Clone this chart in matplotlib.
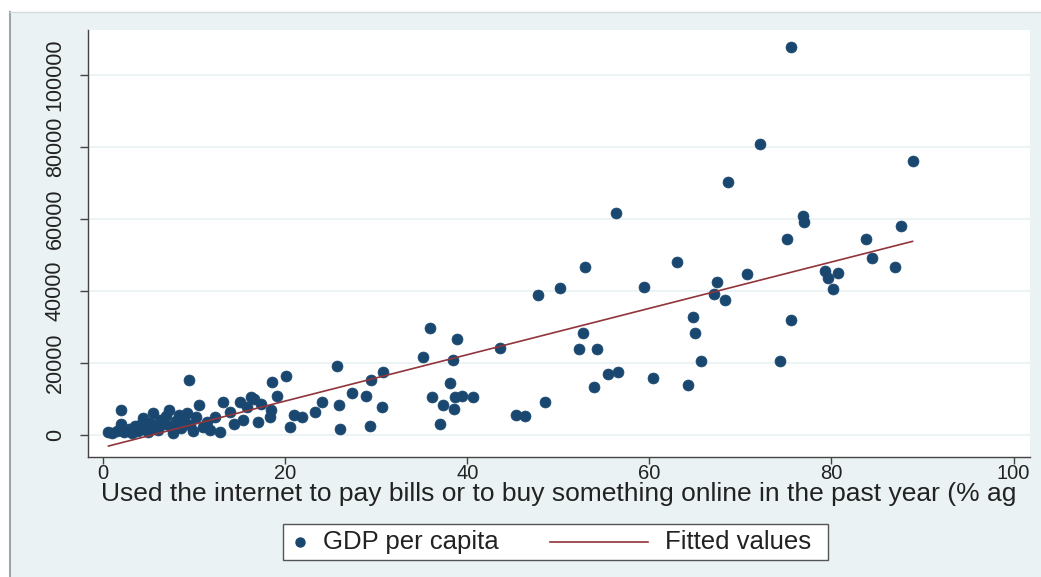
import numpy as np
import matplotlib
matplotlib.use("Agg")
import matplotlib.pyplot as plt
from matplotlib.patches import Rectangle
from matplotlib.lines import Line2D

plt.rcParams['font.family'] = ['Liberation Sans', 'DejaVu Sans']

# share of adults who paid bills / bought online (%) and GDP per capita (US$)
online_pct = [
    0.6, 1.0, 1.5, 2.0, 2.0, 2.3, 2.8, 3.2, 3.5, 3.8, 4.1, 4.4, 4.6, 4.9, 5.2,
    5.5, 5.7, 6.0, 6.3, 6.6, 6.9, 7.2, 7.4, 7.7, 8.0, 8.3, 8.6, 8.9, 9.2, 9.4,
    9.6, 9.9, 10.2, 10.5, 11.0, 11.4, 11.7, 12.3, 12.8, 13.2, 13.9, 14.4, 15.0,
    15.4, 15.8, 16.3, 16.6, 17.0, 17.4, 18.3, 18.5, 18.6, 19.1, 20.1, 20.5,
    21.0, 21.9, 23.3, 24.1, 25.7, 25.9, 26.0, 27.3, 28.9, 29.3, 29.4, 30.6,
    30.8, 35.1, 35.9, 36.1, 37.0, 37.3, 38.1, 38.4, 38.5, 38.6, 38.9, 39.4,
    40.6, 43.6, 45.4, 46.3, 47.8, 48.5, 50.2, 52.3, 52.7, 52.9, 53.9, 54.3,
    55.5, 56.3, 56.6, 59.4, 60.4, 63.0, 64.2, 64.8, 65.0, 65.7, 67.1, 67.4,
    68.3, 68.6, 70.7, 72.1, 74.3, 75.1, 75.5, 75.5, 76.9, 77.0, 79.3, 79.6,
    80.2, 80.7, 83.8, 84.4, 87.0, 87.6, 88.9,
]
gdp_pc = [
    900, 500, 1200, 3200, 6900, 800, 1600, 600, 2400, 1200, 2900, 4600, 1800,
    900, 3400, 6000, 2200, 1300, 4100, 3000, 5200, 6900, 2500, 700, 3800, 5500,
    1900, 4500, 6000, 15300, 2800, 1000, 4900, 8300, 2100, 3700, 1400, 5100,
    900, 9300, 6500, 3000, 9300, 4200, 7900, 10600, 10000, 3700, 8500, 5100,
    6900, 14600, 10800, 16400, 2300, 5700, 4900, 6300, 9300, 19200, 8300, 1600,
    11800, 10800, 2600, 15300, 7900, 17400, 21800, 29800, 10500, 3200, 8300,
    14500, 20800, 7100, 10500, 26600, 10800, 10500, 24100, 5700, 5400, 38900,
    9100, 40900, 23800, 28400, 46800, 13400, 23800, 16900, 61600, 17600, 41200,
    15900, 48100, 13900, 32800, 28300, 20600, 39100, 42400, 37500, 70400,
    44700, 80800, 20600, 54500, 31900, 107700, 60800, 59300, 45600, 43500,
    40500, 44900, 54400, 49100, 46800, 58100, 76200,
]
x_ticks = [0, 20, 40, 60, 80, 100]
y_ticks = [0, 20000, 40000, 60000, 80000, 100000]

x = np.array(online_pct)
y = np.array(gdp_pc)
slope, intercept = np.polyfit(x, y, 1)
fit_x = np.array([x.min(), x.max()])
fit_y = intercept + slope * fit_x

navy = '#1a476f'
maroon = '#90353b'
bg = '#eaf2f3'
W, H = 1041, 577

fig = plt.figure(figsize=(W / 100, H / 100), dpi=100, facecolor=bg)

# window border: white strip left and top, with thin frame lines
fig.add_artist(Rectangle((0, 0), 10 / W, 1, transform=fig.transFigure,
                         facecolor='white', edgecolor='none'))
fig.add_artist(Rectangle((0, 1 - 12 / H), 1, 12 / H, transform=fig.transFigure,
                         facecolor='white', edgecolor='none'))
fig.add_artist(Line2D([10 / W, 10 / W], [0, 1 - 12 / H], transform=fig.transFigure,
                      color='#a0a4a8', lw=1.5))
fig.add_artist(Line2D([10 / W, 1], [1 - 12 / H, 1 - 12 / H], transform=fig.transFigure,
                      color='#d4dadc', lw=1.0))

ax = fig.add_axes([88 / W, 1 - 457 / H, (1030 - 88) / W, (457 - 30) / H])
ax.set_facecolor('white')

ax.scatter(x, y, s=62, color=navy, edgecolors=navy, linewidths=0.5, zorder=3)
ax.plot(fit_x, fit_y, color=maroon, lw=1.2, zorder=4)

ax.set_xlim(-1.65, 101.8)
ax.set_ylim(-6100, 112500)
ax.set_xticks(x_ticks)
ax.set_yticks(y_ticks)
ax.set_yticklabels([str(v) for v in y_ticks], rotation=90, va='center')
ax.tick_params(axis='both', direction='out', width=1, color='#444444',
               labelcolor='#222222')
ax.tick_params(axis='y', length=6, pad=10, labelsize=15.5)
ax.tick_params(axis='x', length=5, pad=0, labelsize=14.5)
ax.grid(axis='y', color=bg, lw=1.3)
ax.set_axisbelow(True)
for side in ['top', 'right']:
    ax.spines[side].set_visible(False)
for side in ['left', 'bottom']:
    ax.spines[side].set_color('#444444')
    ax.spines[side].set_linewidth(1.0)

ax.set_xlabel('Used the internet to pay bills or to buy something online in the past year (% ag',
              fontsize=19, color='#222222', labelpad=-1)

# legend box
lx0, lx1, ly0, ly1 = 283, 828, 524, 560
fig.add_artist(Rectangle((lx0 / W, 1 - ly1 / H), (lx1 - lx0) / W, (ly1 - ly0) / H,
                         transform=fig.transFigure, facecolor='white',
                         edgecolor='#555555', lw=1.0))
ymid = 1 - 542 / H
fig.add_artist(Line2D([300 / W], [ymid], transform=fig.transFigure, marker='o',
                      markersize=6.5, color=navy, lw=0))
fig.text(323 / W, ymid, 'GDP per capita', fontsize=18.5, color='#222222', va='center')
fig.add_artist(Line2D([550 / W, 648 / W], [ymid, ymid], transform=fig.transFigure,
                      color=maroon, lw=1.2))
fig.text(665 / W, ymid, 'Fitted values', fontsize=18.5, color='#222222', va='center')

fig.savefig('out.png', dpi=100, facecolor=fig.get_facecolor())
